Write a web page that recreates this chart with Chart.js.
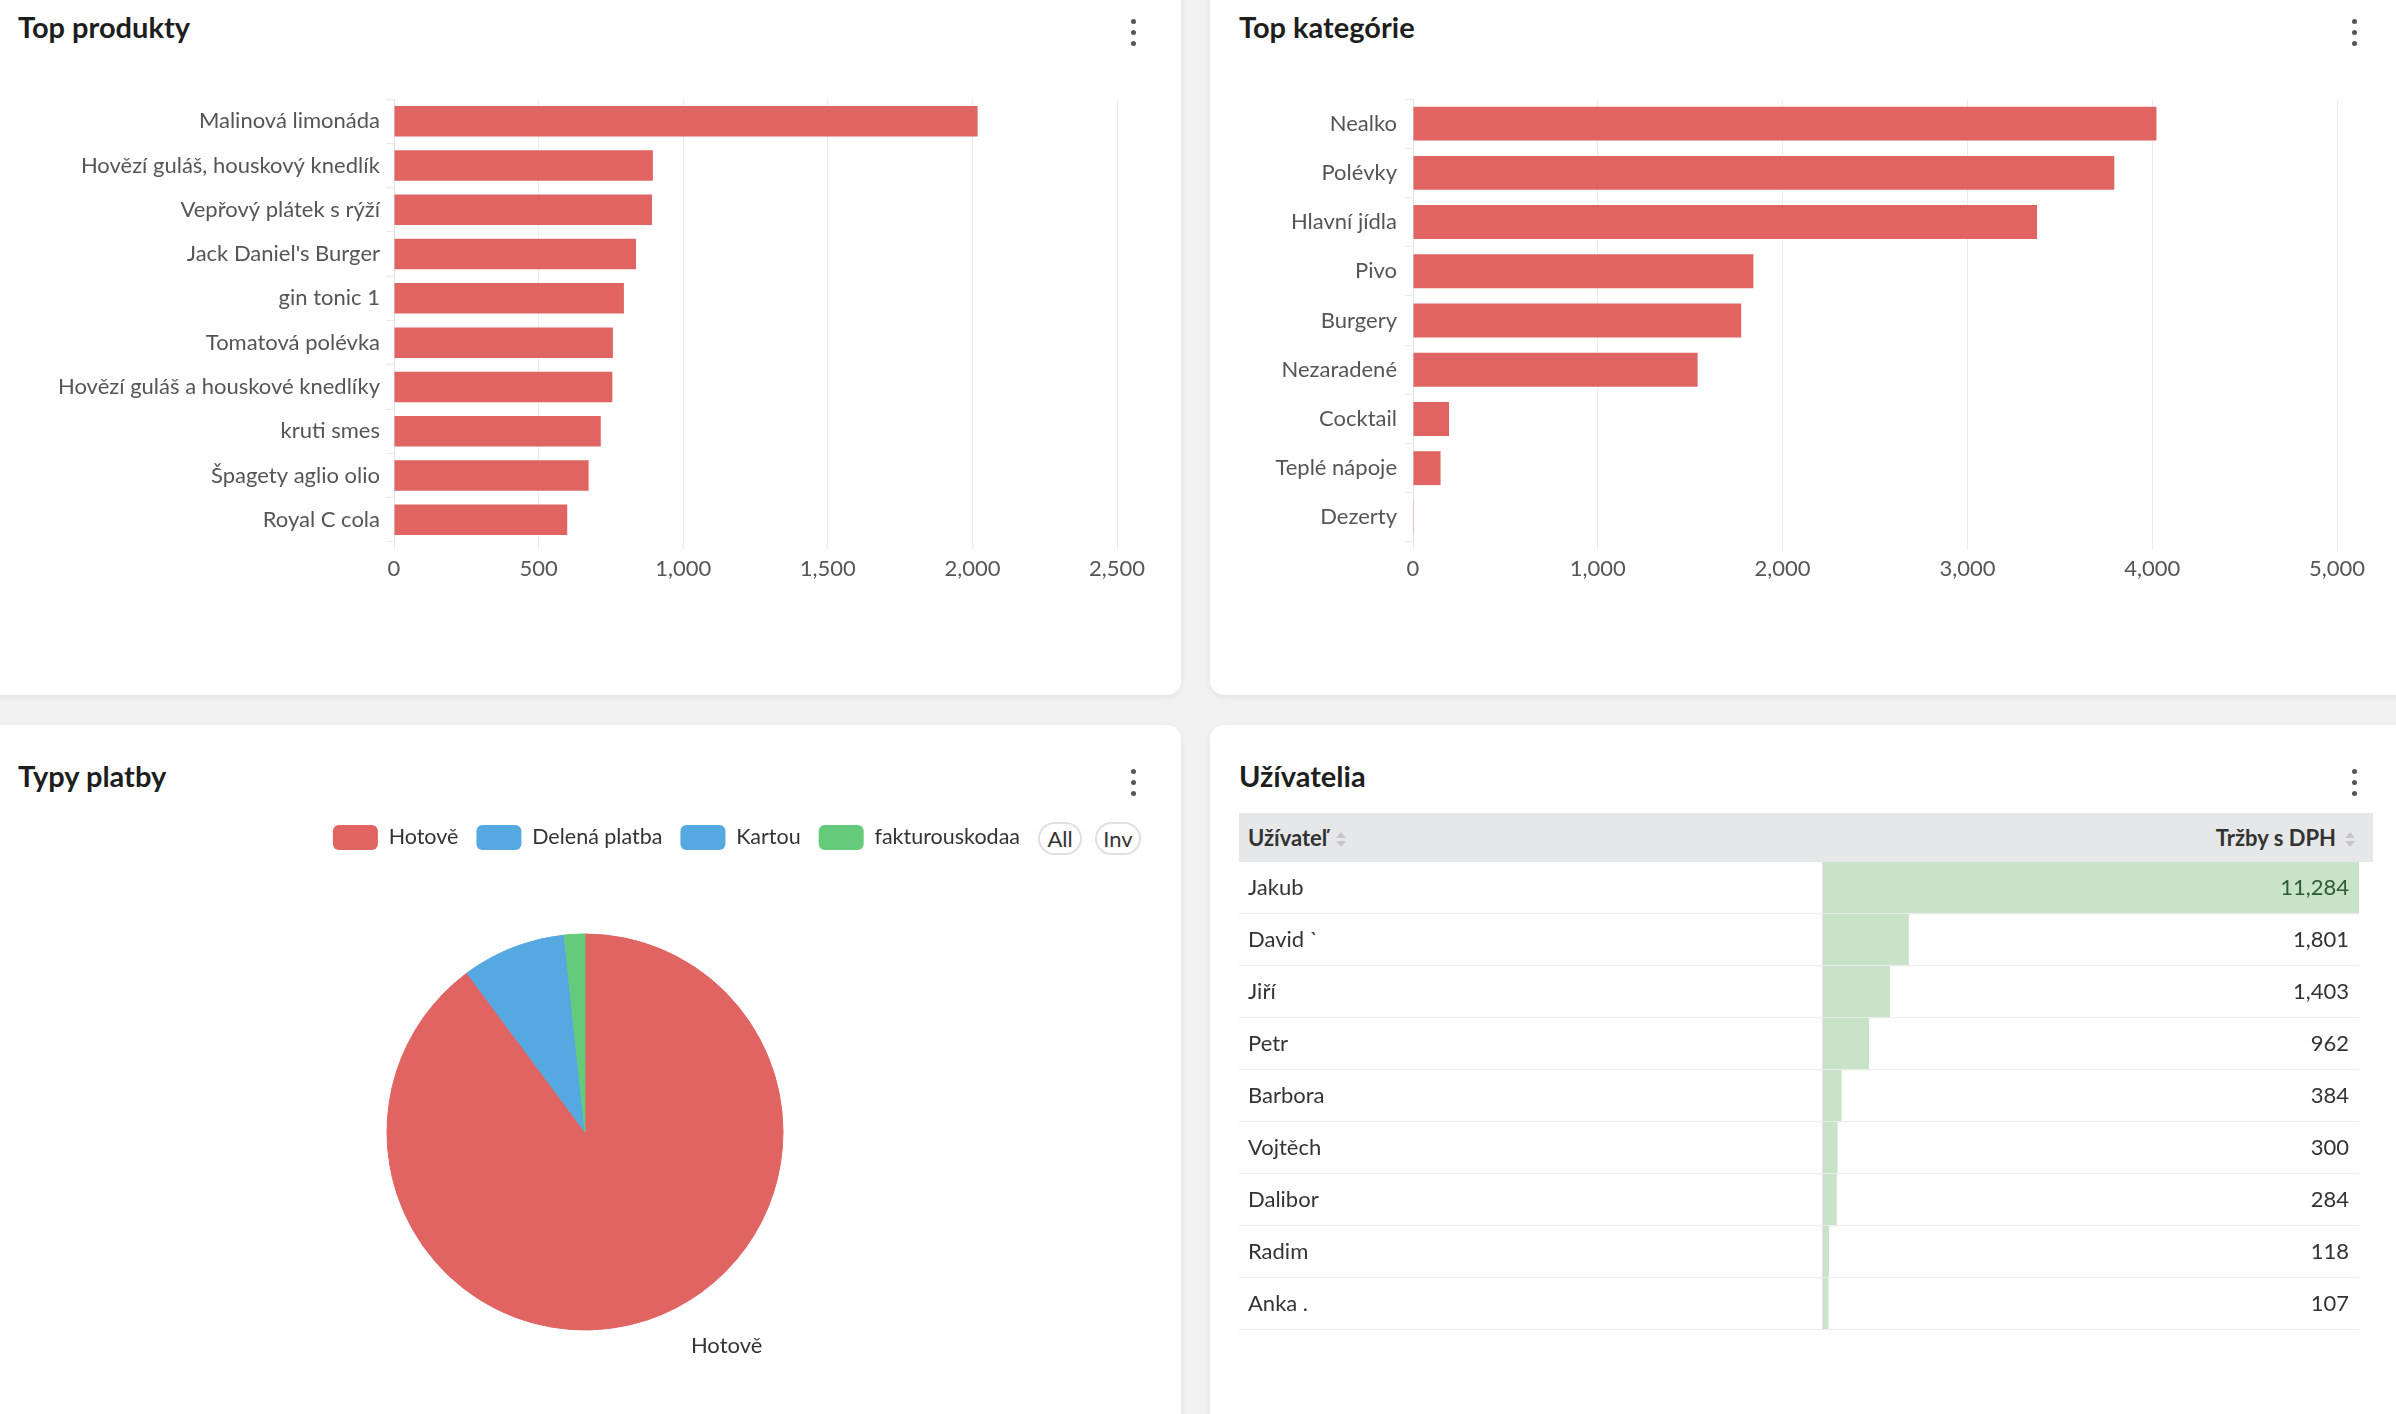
<!DOCTYPE html>
<html>
<head>
<meta charset="utf-8">
<title>Dashboard</title>
<script src="https://cdn.jsdelivr.net/npm/chart.js@4.4.1/dist/chart.umd.min.js"></script>
<style>
html, body { margin: 0; padding: 0; }
body {
	width: 2396px; height: 1414px; overflow: hidden; position: relative;
	background: #f2f2f2; font-family: Lato, 'Noto Sans', sans-serif; color: #333;
}
.panel { position: absolute; background: #fff; border-radius: 14px; box-shadow: 0 2px 7px rgba(0, 0, 0, 0.07); }
.title { position: absolute; font-size: 29px; line-height: 34px; font-weight: 700; color: #1e1e1e; }
.kebab { position: absolute; width: 6px; }
.kebab span { display: block; width: 5px; height: 5px; border-radius: 50%; background: #555; margin-bottom: 6px; }
.box { position: absolute; }
.pill {
	position: absolute; top: 822px; height: 29px; border: 2px solid #e0e0e0; border-radius: 17px;
	background: #fff; font-size: 22px; line-height: 29px; text-align: center; color: #333;
}
.thead { position: absolute; left: 1239px; top: 813px; width: 1134px; height: 49px; background: #e6e7e9; font-size: 22px; font-weight: 700; color: #333; }
.thead .l, .thead .r { position: absolute; top: 0; height: 49px; display: flex; align-items: center; }
.thead .l { left: 9px; }
.thead .r { right: 17px; }
.thead svg { margin-left: 8px; margin-top: 4px; }
</style>
</head>
<body>

<div class="panel" style="left:-20px; top:-20px; width:1201px; height:715px;"></div>
<div class="panel" style="left:1210px; top:-20px; width:1206px; height:715px;"></div>
<div class="panel" style="left:-20px; top:725px; width:1201px; height:720px;"></div>
<div class="panel" style="left:1210px; top:725px; width:1206px; height:720px;"></div>

<div class="title" style="left:18px; top:10px;">Top produkty</div>
<div class="title" style="left:1239px; top:10px;">Top kategórie</div>
<div class="title" style="left:18px; top:759px;">Typy platby</div>
<div class="title" style="left:1239px; top:759px;">Užívatelia</div>

<div class="kebab" style="left:1131px; top:19px;"><span></span><span></span><span></span></div>
<div class="kebab" style="left:2352px; top:19px;"><span></span><span></span><span></span></div>
<div class="kebab" style="left:1131px; top:769px;"><span></span><span></span><span></span></div>
<div class="kebab" style="left:2352px; top:769px;"><span></span><span></span><span></span></div>

<div class="box" style="left:10px; top:89px; width:1147px; height:493px;"><canvas id="productsChart"></canvas></div>
<div class="box" style="left:1225px; top:89px; width:1152px; height:493px;"><canvas id="categoriesChart"></canvas></div>
<div class="box" style="left:132px; top:807px; width:906px; height:597px;"><canvas id="paymentsChart"></canvas></div>

<div class="pill" style="left:1038px; width:40px;">All</div>
<div class="pill" style="left:1095px; width:42px;">Inv</div>

<div class="thead">
	<div class="l">Užívateľ<svg width="12" height="18" viewBox="0 0 12 18"><polygon points="1,7 6,1 11,7" fill="#c6c6c6"/><polygon points="1,10 6,16 11,10" fill="#c6c6c6"/></svg></div>
	<div class="r">Tržby s DPH<svg width="12" height="18" viewBox="0 0 12 18"><polygon points="1,7 6,1 11,7" fill="#c6c6c6"/><polygon points="1,10 6,16 11,10" fill="#c6c6c6"/></svg></div>
</div>
<div class="box" style="left:1239px; top:862px; width:1134px; height:468px;"><canvas id="usersChart"></canvas></div>

<script>
// data
var productNames = ['Malinová limonáda', 'Hovězí guláš, houskový knedlík', 'Vepřový plátek s rýží',
	'Jack Daniel\'s Burger', 'gin tonic 1', 'Tomatová polévka', 'Hovězí guláš a houskové knedlíky',
	'kruti smes', 'Špagety aglio olio', 'Royal C cola'];
var productSales = [2018, 895, 892, 837, 795, 757, 755, 715, 673, 599];

var categoryNames = ['Nealko', 'Polévky', 'Hlavní jídla', 'Pivo', 'Burgery', 'Nezaradené', 'Cocktail', 'Teplé nápoje', 'Dezerty'];
var categorySales = [4023, 3795, 3377, 1842, 1776, 1540, 195, 149, 4];

var paymentNames = ['Hotově', 'Delená platba', 'Kartou', 'fakturouskodaa'];
var paymentSales = [14950, 160, 1253, 280];

var userNames = ['Jakub', 'David \u02CB', 'Jiří', 'Petr', 'Barbora', 'Vojtěch', 'Dalibor', 'Radim', 'Anka .'];
var userSales = [11284, 1801, 1403, 962, 384, 300, 284, 118, 107];

var colors = {
	red: '#e06461',
	blue: '#56a8e0',
	green: '#66ca7b',
	paleGreen: '#c8e3c8',
	grid: '#ebebeb',
	text: '#555'
};

var tickFont = { family: 'Lato', size: 22 };

// keep the category labels from pushing the plot area in
function noLabelPadding(scale) {
	scale.paddingTop = 0;
	scale.paddingBottom = 0;
}

function barConfig(labels, values, max, step, axisWidth, labelPad) {
	return {
		type: 'bar',
		data: {
			labels: labels,
			datasets: [{
				data: values,
				backgroundColor: colors.red,
				categoryPercentage: 0.8,
				barPercentage: 0.86
			}]
		},
		options: {
			indexAxis: 'y',
			responsive: true,
			maintainAspectRatio: false,
			animation: false,
			locale: 'en-US',
			layout: { padding: { top: 10, right: 40 } },
			plugins: { legend: { display: false }, tooltip: { enabled: false } },
			scales: {
				x: {
					min: 0,
					max: max,
					ticks: { stepSize: step, font: tickFont, color: colors.text, padding: 6 },
					grid: { color: colors.grid },
					border: { display: false },
					afterFit: function (scale) { scale.height = 40; }
				},
				y: {
					ticks: { font: tickFont, color: colors.text, padding: labelPad },
					grid: { drawOnChartArea: false, color: colors.grid },
					border: { color: '#e3e3e3' },
					afterFit: function (scale) {
						scale.width = axisWidth;
						noLabelPadding(scale);
					}
				}
			}
		}
	};
}

new Chart(document.getElementById('productsChart'), barConfig(productNames, productSales, 2500, 500, 384, 6));
new Chart(document.getElementById('categoriesChart'), barConfig(categoryNames, categorySales, 5000, 1000, 188, 8));

// label drawn outside the large pie slices
var sliceLabels = {
	id: 'sliceLabels',
	afterDatasetsDraw: function (chart) {
		var ctx = chart.ctx;
		var values = chart.data.datasets[0].data;
		var total = values.reduce(function (a, b) { return a + b; }, 0);
		chart.getDatasetMeta(0).data.forEach(function (arc, i) {
			if (values[i] / total < 0.2) {
				return;
			}
			var mid = (arc.startAngle + arc.endAngle) / 2;
			var r = arc.outerRadius * 1.14;
			ctx.save();
			ctx.font = '22px Lato';
			ctx.fillStyle = '#333';
			ctx.textAlign = 'left';
			ctx.textBaseline = 'middle';
			ctx.fillText(chart.data.labels[i], arc.x + Math.cos(mid) * r + 35, arc.y + Math.sin(mid) * r);
			ctx.restore();
		});
	}
};

var sliceColors = [colors.red, colors.blue, colors.blue, colors.green];

new Chart(document.getElementById('paymentsChart'), {
	type: 'pie',
	data: {
		labels: paymentNames,
		datasets: [{
			data: paymentSales,
			backgroundColor: sliceColors,
			borderColor: sliceColors,
			borderWidth: 1,
			radius: 198
		}]
	},
	options: {
		responsive: true,
		maintainAspectRatio: false,
		animation: false,
		plugins: {
			tooltip: { enabled: false },
			legend: {
				position: 'top',
				align: 'end',
				labels: {
					boxWidth: 45,
					boxHeight: 25,
					useBorderRadius: true,
					borderRadius: 6,
					padding: 18,
					color: '#333',
					font: { family: 'Lato', size: 21.5 },
					generateLabels: function (chart) {
						var items = Chart.controllers.pie.overrides.plugins.legend.labels.generateLabels(chart);
						items.forEach(function (item) { item.lineWidth = 0; });
						return items;
					}
				}
			}
		}
	},
	plugins: [sliceLabels]
});

// table rows: separators, column line and value cells
var tableCells = {
	id: 'tableCells',
	afterDatasetsDraw: function (chart) {
		var ctx = chart.ctx;
		var area = chart.chartArea;
		var rowH = (area.bottom - area.top) / userNames.length;
		ctx.save();
		ctx.fillStyle = '#e2e2e2';
		ctx.fillRect(area.left - 1, area.top, 1, area.bottom - area.top);
		ctx.fillStyle = '#ececec';
		for (var i = 1; i <= userNames.length; i++) {
			ctx.fillRect(0, Math.round(area.top + rowH * i) - 1, area.right, 1);
		}
		ctx.font = '22px Lato';
		ctx.textAlign = 'right';
		ctx.textBaseline = 'middle';
		var tx = area.right - 10;
		chart.getDatasetMeta(0).data.forEach(function (bar, j) {
			ctx.fillStyle = bar.x >= tx ? '#2f5b33' : '#333';
			ctx.fillText(userSales[j].toLocaleString('en-US'), tx, bar.y);
		});
		ctx.restore();
	}
};

new Chart(document.getElementById('usersChart'), {
	type: 'bar',
	data: {
		labels: userNames,
		datasets: [{
			data: userSales,
			backgroundColor: colors.paleGreen,
			categoryPercentage: 1,
			barPercentage: 1
		}]
	},
	options: {
		indexAxis: 'y',
		responsive: true,
		maintainAspectRatio: false,
		animation: false,
		layout: { padding: { left: 9, right: 14 } },
		plugins: { legend: { display: false }, tooltip: { enabled: false } },
		scales: {
			x: { display: false, min: 0, max: Math.max.apply(null, userSales) },
			y: {
				ticks: { crossAlign: 'far', font: tickFont, color: '#333' },
				grid: { display: false },
				border: { display: false },
				afterFit: function (scale) {
					scale.width = 575;
					noLabelPadding(scale);
				}
			}
		}
	},
	plugins: [tableCells]
});
</script>
</body>
</html>
